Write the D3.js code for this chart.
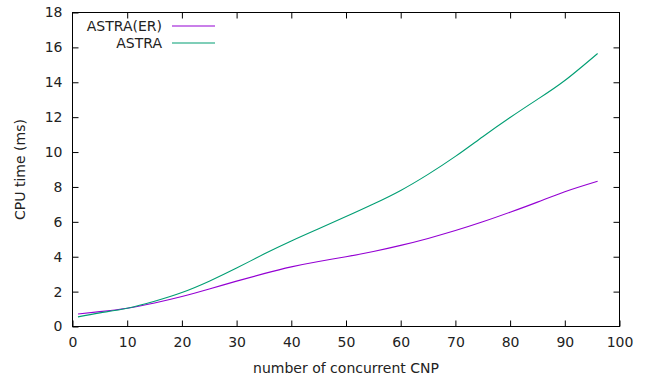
<!DOCTYPE html>
<html>
<head>
<meta charset="utf-8">
<script src="https://cdn.jsdelivr.net/npm/d3@7"></script>
<style>
  body { margin: 0; background: #fff; }
  text { font-family: "DejaVu Sans", sans-serif; font-size: 14px; fill: #222; }
</style>
</head>
<body>
<svg id="chart"></svg>
<script>
// data
const cnp = [1, 5, 10, 15, 20, 25, 30, 35, 40, 45, 50, 55, 60, 65, 70, 75, 80, 85, 90, 96];
const astraER = [0.72, 0.85, 1.05, 1.35, 1.72, 2.15, 2.6, 3.03, 3.42, 3.73, 4.0, 4.3, 4.65, 5.05, 5.5, 6.0, 6.55, 7.13, 7.73, 8.33];
const astra = [0.55, 0.78, 1.05, 1.45, 1.95, 2.6, 3.35, 4.15, 4.9, 5.6, 6.3, 7.02, 7.8, 8.72, 9.75, 10.88, 11.98, 13.02, 14.1, 15.65];
const xTicks = [0, 10, 20, 30, 40, 50, 60, 70, 80, 90, 100];
const yTicks = [0, 2, 4, 6, 8, 10, 12, 14, 16, 18];

const series = [
  { name: 'ASTRA(ER)', values: astraER, color: '#9400d3' },
  { name: 'ASTRA', values: astra, color: '#009e73' }
];

const width = 646, height = 379;
const plotL = 72.5, plotR = 619.5, plotT = 12.5, plotB = 326.5;

const svg = d3.select('#chart')
  .attr('width', width)
  .attr('height', height);

const x = d3.scaleLinear().domain([0, 100]).range([plotL, plotR]);
const y = d3.scaleLinear().domain([0, 18]).range([plotB, plotT]);

// axes: ticks point inward, mirrored on top/right
const tick = 6;
svg.append('g')
  .attr('transform', `translate(0,${plotB})`)
  .call(d3.axisBottom(x).tickValues(xTicks).tickSizeInner(-tick).tickSizeOuter(0).tickPadding(11))
  .call(g => g.select('.domain').remove());
svg.append('g')
  .attr('transform', `translate(0,${plotT})`)
  .call(d3.axisTop(x).tickValues(xTicks.slice(1, -1)).tickSizeInner(-tick).tickSizeOuter(0).tickFormat(''))
  .call(g => g.select('.domain').remove());
svg.append('g')
  .attr('transform', `translate(${plotL},0)`)
  .call(d3.axisLeft(y).tickValues(yTicks).tickSizeInner(-tick).tickSizeOuter(0).tickPadding(10))
  .call(g => g.select('.domain').remove());
svg.append('g')
  .attr('transform', `translate(${plotR},0)`)
  .call(d3.axisRight(y).tickValues(yTicks.slice(1, -1)).tickSizeInner(-tick).tickSizeOuter(0).tickFormat(''))
  .call(g => g.select('.domain').remove());

svg.selectAll('.tick text').style('font-size', '14px').style('font-family', '"DejaVu Sans", sans-serif').attr('fill', '#222');
svg.selectAll('.tick line').attr('stroke', '#000');

svg.append('rect')
  .attr('x', plotL).attr('y', plotT)
  .attr('width', plotR - plotL).attr('height', plotB - plotT)
  .attr('fill', 'none').attr('stroke', '#000').attr('stroke-width', 1);

// lines
const line = d3.line()
  .x((d, i) => x(cnp[i]))
  .y(d => y(d))
  .curve(d3.curveNatural);

svg.selectAll('path.series')
  .data(series)
  .enter()
  .append('path')
  .attr('class', 'series')
  .attr('d', s => line(s.values))
  .attr('fill', 'none')
  .attr('stroke', s => s.color)
  .attr('stroke-width', 1.1);

// legend
const legend = svg.append('g');
series.forEach((s, i) => {
  const ly = 26 + i * 17;
  legend.append('text')
    .attr('x', 162).attr('y', ly + 5)
    .attr('text-anchor', 'end')
    .text(s.name);
  legend.append('line')
    .attr('x1', 172).attr('x2', 215)
    .attr('y1', ly).attr('y2', ly)
    .attr('stroke', s.color).attr('stroke-width', 1.1);
});

// axis titles
svg.append('text')
  .attr('x', (plotL + plotR) / 2).attr('y', 373)
  .attr('text-anchor', 'middle')
  .text('number of concurrent CNP');
svg.append('text')
  .attr('transform', `translate(25,${(plotT + plotB) / 2}) rotate(-90)`)
  .attr('text-anchor', 'middle')
  .text('CPU time (ms)');
</script>
</body>
</html>
